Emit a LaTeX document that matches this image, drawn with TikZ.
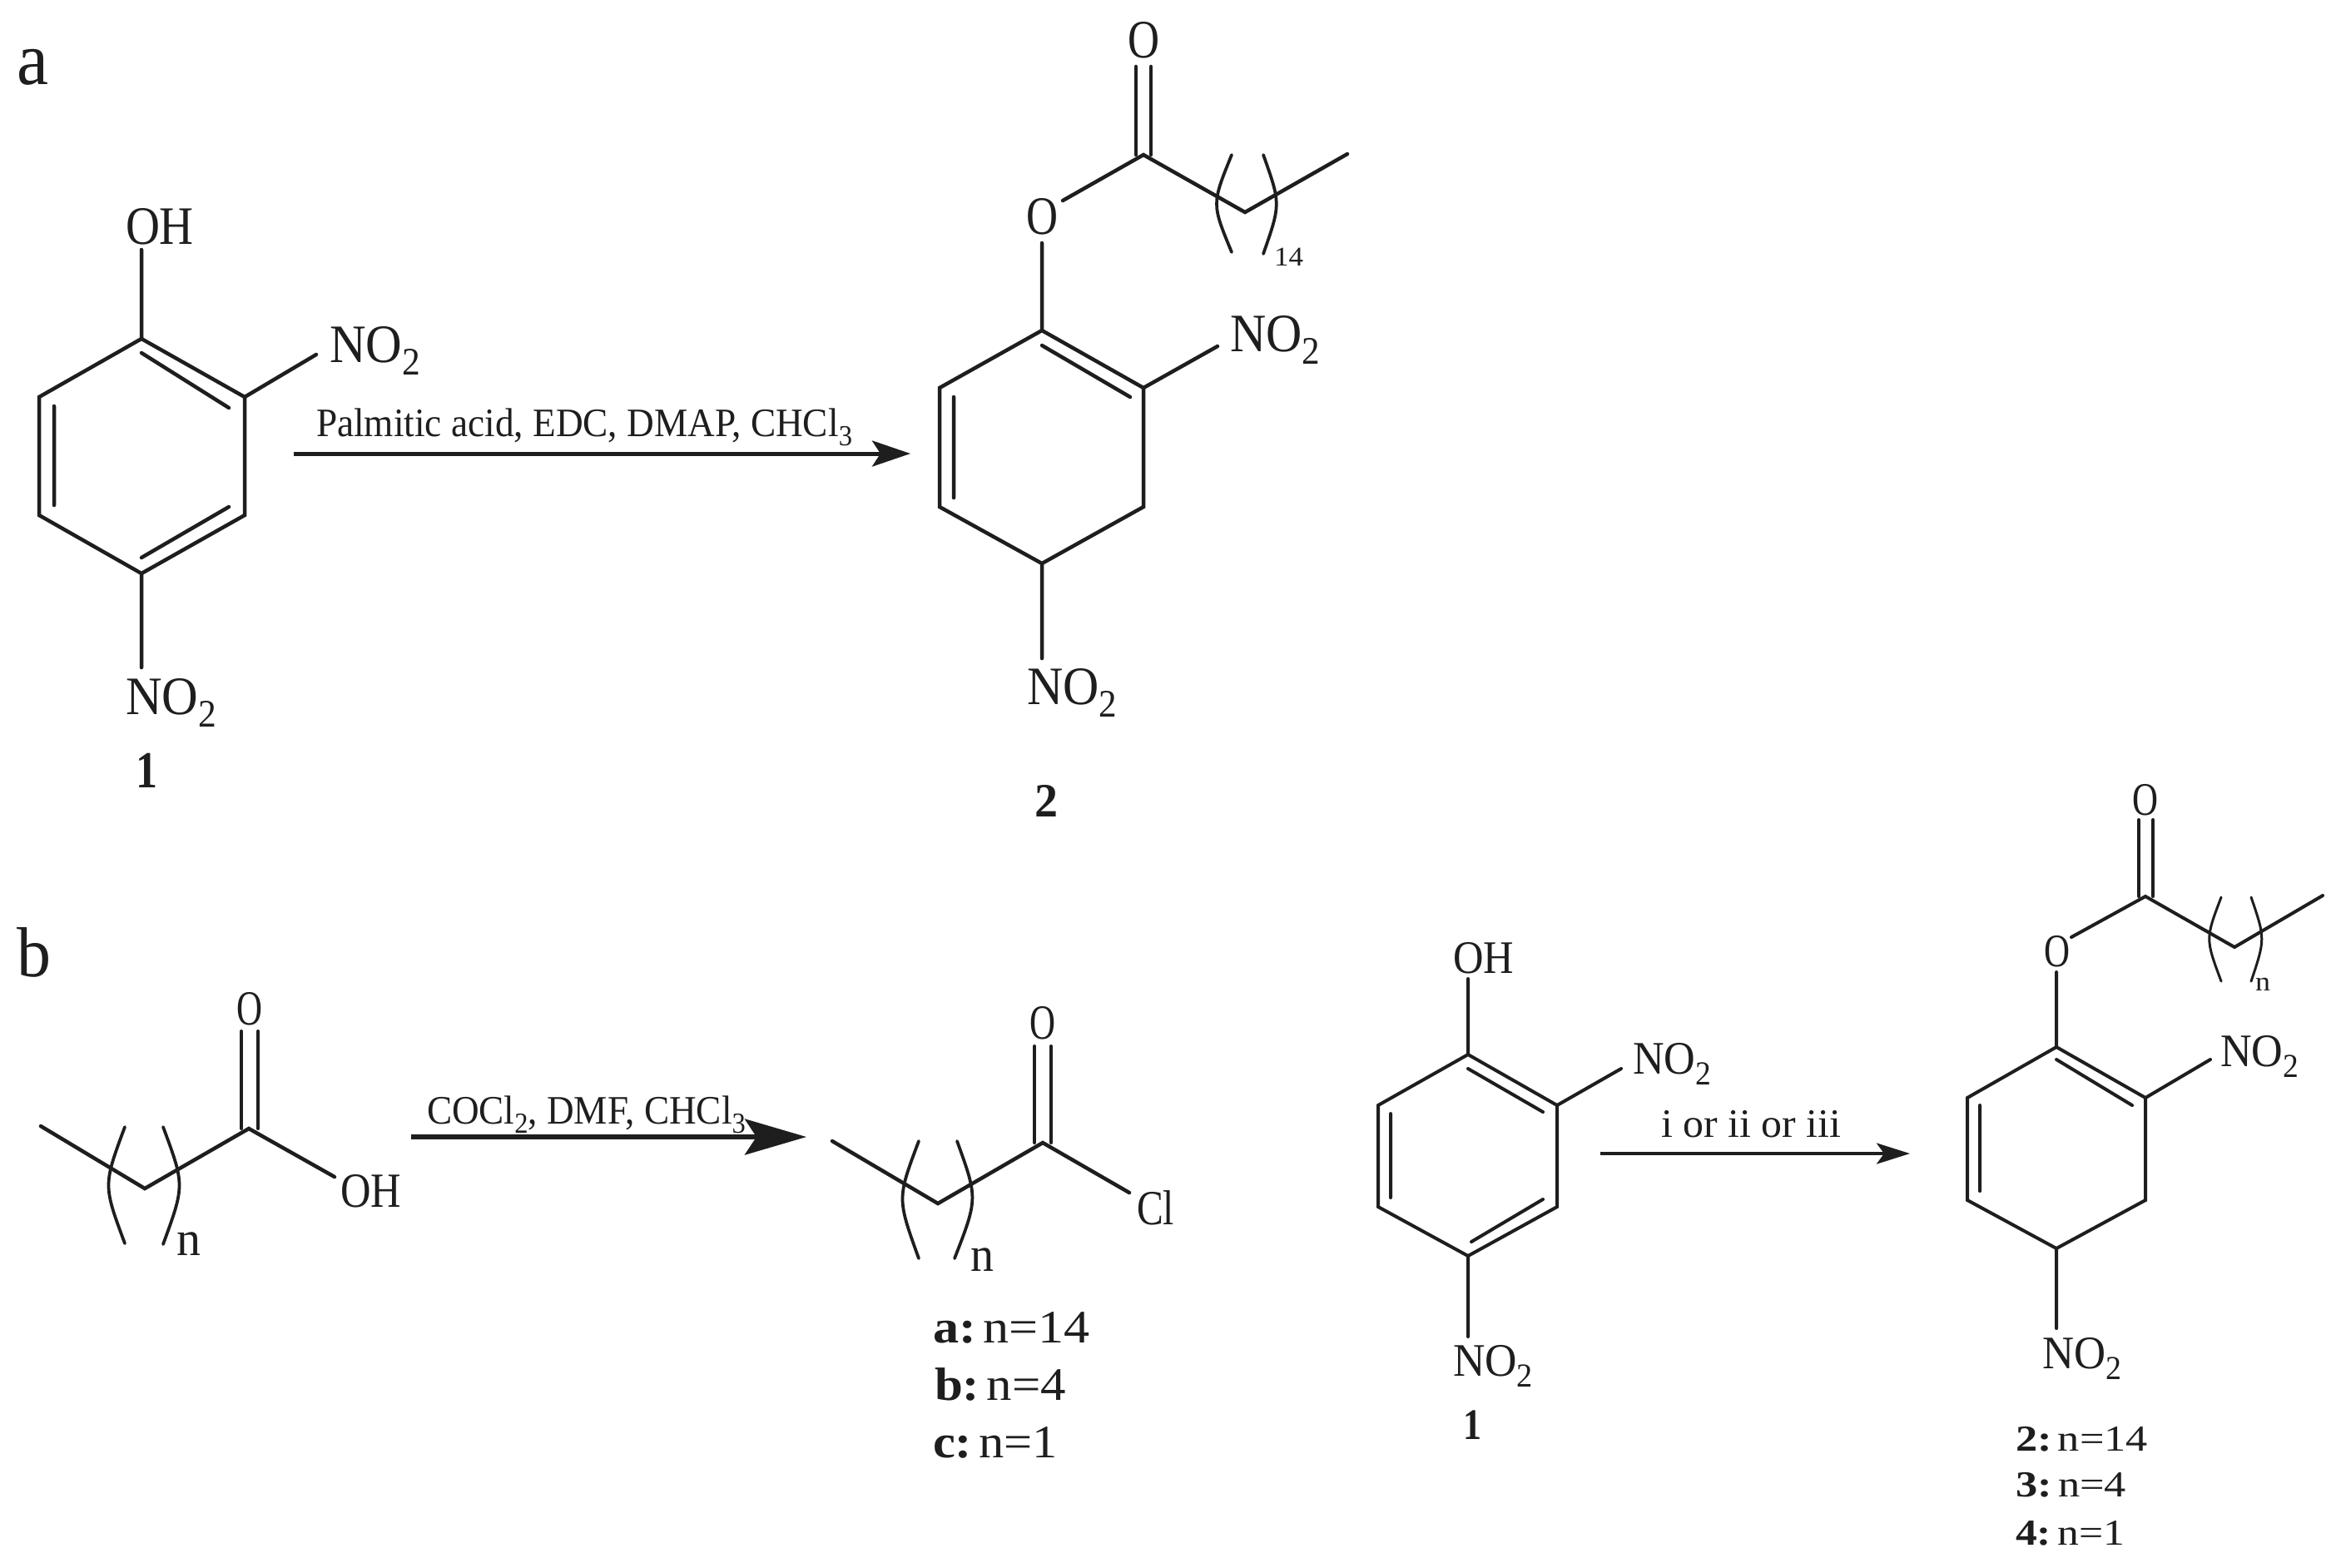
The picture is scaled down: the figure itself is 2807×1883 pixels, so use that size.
\documentclass[tikz,border=0pt]{standalone}
\usepackage{graphicx}
\usepackage{fontspec}
\setmainfont{Liberation Serif}
\usetikzlibrary{arrows.meta}
\newlength\upx \setlength{\upx}{.2pt}
\newcommand\T[3]{\resizebox{#1\upx}{\height}{\fontsize{#2}{#2}\selectfont #3}}
\newcommand\dn[1]{\raisebox{-.24em}{\scalebox{.72}{#1}}}
\newcommand\gp{\hspace{.14em}}
\definecolor{ink}{HTML}{1E1E1E}
\tikzset{
  lab/.style={inner sep=0pt,outer sep=0pt,anchor=base west,text=ink},
  bond/.style={draw=ink,line width=.9pt,line join=miter,line cap=round},
  thinbond/.style={draw=ink,line width=.8pt,line join=miter,line cap=round},
  paren/.style={draw=ink,line width=.75pt,line cap=round},
  rxnS/.style={draw=ink,line width=1pt,-{Stealth[length=9.2pt,width=6.2pt,inset=2pt]}},
  rxnL/.style={draw=ink,line width=1.15pt,-{Stealth[length=14.8pt,width=8.6pt,inset=2.8pt]}},
  rxnT/.style={draw=ink,line width=.85pt,-{Stealth[length=8pt,width=5pt,inset=1.8pt]}}
}
\begin{document}
\begin{tikzpicture}[x=.2pt,y=-.2pt]
\path[use as bounding box,fill=white] (0,0) rectangle (2807,1883);

% panel labels
\node[lab] (panelA) at (21,101) {\T{38}{18}{a}};
\node[lab] (panelB) at (20,1173) {\T{41}{17}{b}};

% ===== panel a, compound 1
\coordinate (a1) at (170,407);
\coordinate (a2) at (294,477);
\coordinate (a3) at (294,619);
\coordinate (a4) at (170,689);
\coordinate (a5) at (47,619);
\coordinate (a6) at (47,477);
\coordinate (a1i) at (170,424);
\coordinate (a2i) at (275,490);
\coordinate (a3i) at (275,609);
\coordinate (a4i) at (170,670);
\coordinate (a5i) at (65,607);
\coordinate (a6i) at (65,488);
\coordinate (aOHb) at (170,300);
\coordinate (aN1b) at (380,426);
\coordinate (aN2b) at (170,802);
\draw[bond] (a1)--(a2)--(a3)--(a4)--(a5)--(a6)--cycle;
\draw[bond] (a1i)--(a2i) (a3i)--(a4i) (a5i)--(a6i);
\draw[bond] (a1)--(aOHb) (a2)--(aN1b) (a4)--(aN2b);
\node[lab] (aOH) at (151,293) {\T{82}{13}{OH}};
\node[lab] (aN1) at (396,435) {\T{109}{13}{NO\dn{2}}};
\node[lab] (aN2) at (151,858) {\T{109}{13}{NO\dn{2}}};
\node[lab] (aL1) at (164,946) {\T{26}{12.5}{\textbf{1}}};

% arrow a
\coordinate (arAs) at (353,545);
\coordinate (arAe) at (1094,545);
\draw[rxnS] (arAs)--(arAe);
\node[lab] (arAt) at (380,524) {\T{644}{9.7}{Palmitic acid, EDC, DMAP, CHCl\dn{3}}};

% ===== panel a, compound 2
\coordinate (p1) at (1252,397);
\coordinate (p2) at (1374,466);
\coordinate (p3) at (1374,609);
\coordinate (p4) at (1252,677);
\coordinate (p5) at (1129,609);
\coordinate (p6) at (1129,466);
\coordinate (p1i) at (1252,415);
\coordinate (p2i) at (1358,477);
\coordinate (p5i) at (1146,598);
\coordinate (p6i) at (1146,477);
\coordinate (pOb) at (1252,292);
\coordinate (pOc) at (1277,241);
\coordinate (pC) at (1374,186);
\coordinate (pO1) at (1365,80);
\coordinate (pO2) at (1383,80);
\coordinate (pC1) at (1365,186);
\coordinate (pC2) at (1383,186);
\coordinate (pM) at (1496,255);
\coordinate (pE) at (1619,185);
\coordinate (pN1b) at (1463,416);
\coordinate (pN2b) at (1252,791);
\draw[bond] (p1)--(p2)--(p3)--(p4)--(p5)--(p6)--cycle;
\draw[bond] (p1i)--(p2i) (p5i)--(p6i);
\draw[bond] (p1)--(pOb) (pOc)--(pC)--(pM)--(pE);
\draw[bond] (pO1)--(pC1) (pO2)--(pC2);
\draw[bond] (p2)--(pN1b) (p4)--(pN2b);
\draw[paren] (1480,186) .. controls (1456,245) .. (1480,303);
\draw[paren] (1518,186) .. controls (1539,245) .. (1518,305);
\node[lab] (pOt) at (1355,69) {\T{38}{13}{O}};
\node[lab] (pOe) at (1233,281) {\T{38}{13}{O}};
\node[lab] (pN14) at (1531,319) {\T{35}{6.5}{14}};
\node[lab] (pN1) at (1478,422) {\T{108}{13}{NO\dn{2}}};
\node[lab] (pN2) at (1234,846) {\T{108}{13}{NO\dn{2}}};
\node[lab] (pL2) at (1243,981) {\T{28}{11.5}{\textbf{2}}};

% ===== panel b, acid
\coordinate (cS) at (49,1353);
\coordinate (cM) at (174,1428);
\coordinate (cC) at (299,1356);
\coordinate (cO1) at (290,1239);
\coordinate (cO2) at (310,1239);
\coordinate (cC1) at (290,1356);
\coordinate (cC2) at (310,1356);
\coordinate (cOH) at (402,1414);
\draw[bond] (cS)--(cM)--(cC)--(cOH);
\draw[thinbond] (cO1)--(cC1) (cO2)--(cC2);
\draw[paren] (150,1354) .. controls (124,1424) .. (150,1494);
\draw[paren] (196,1354) .. controls (222,1424) .. (196,1495);
\node[lab] (cOt) at (284,1231) {\T{31}{11.8}{O}};
\node[lab] (cOHt) at (409,1450) {\T{73}{11.8}{OH}};
\node[lab] (cn) at (212,1508) {\T{29}{11.8}{n}};

% arrow b1
\coordinate (arBs) at (494,1366);
\coordinate (arBe) at (969,1366);
\draw[rxnL] (arBs)--(arBe);
\node[lab] (arBt) at (513,1350) {\T{383}{9.7}{COCl\dn{2}, DMF, CHCl\dn{3}}};

% ===== panel b, acyl chloride
\coordinate (dS) at (1000,1371);
\coordinate (dM) at (1127,1446);
\coordinate (dC) at (1253,1373);
\coordinate (dO1) at (1243,1257);
\coordinate (dO2) at (1263,1257);
\coordinate (dC1) at (1243,1373);
\coordinate (dC2) at (1263,1373);
\coordinate (dCl) at (1357,1433);
\draw[bond] (dS)--(dM)--(dC)--(dCl);
\draw[thinbond] (dO1)--(dC1) (dO2)--(dC2);
\draw[paren] (1104,1371) .. controls (1078,1440) .. (1104,1512);
\draw[paren] (1150,1371) .. controls (1175,1440) .. (1147,1512);
\node[lab] (dOt) at (1237,1248) {\T{31}{11.8}{O}};
\node[lab] (dClt) at (1366,1471) {\T{45}{11.8}{Cl}};
\node[lab] (dn) at (1166,1527) {\T{28}{11.8}{n}};
\node[lab] (dA) at (1121,1613) {\T{189}{11.2}{\textbf{a:}\gp n=14}};
\node[lab] (dB) at (1123,1682) {\T{158}{11.2}{\textbf{b:}\gp n=4}};
\node[lab] (dD) at (1121,1751) {\T{150}{11.2}{\textbf{c:}\gp n=1}};

% ===== panel b, compound 1
\coordinate (e1) at (1764,1267);
\coordinate (e2) at (1871,1328);
\coordinate (e3) at (1871,1450);
\coordinate (e4) at (1764,1509);
\coordinate (e5) at (1656,1450);
\coordinate (e6) at (1656,1328);
\coordinate (e1i) at (1764,1284);
\coordinate (e2i) at (1854,1336);
\coordinate (e3i) at (1854,1441);
\coordinate (e4i) at (1768,1492);
\coordinate (e5i) at (1671,1439);
\coordinate (e6i) at (1671,1338);
\coordinate (eOHb) at (1764,1176);
\coordinate (eN1b) at (1948,1284);
\coordinate (eN2b) at (1764,1606);
\draw[thinbond] (e1)--(e2)--(e3)--(e4)--(e5)--(e6)--cycle;
\draw[thinbond] (e1i)--(e2i) (e3i)--(e4i) (e5i)--(e6i);
\draw[thinbond] (e1)--(eOHb) (e2)--(eN1b) (e4)--(eN2b);
\node[lab] (eOH) at (1746,1169) {\T{73}{11.2}{OH}};
\node[lab] (eN1) at (1962,1290) {\T{94}{11.2}{NO\dn{2}}};
\node[lab] (eN2) at (1746,1653) {\T{96}{11.2}{NO\dn{2}}};
\node[lab] (eL1) at (1758,1729) {\T{22}{10.5}{\textbf{1}}};

% arrow b2
\coordinate (arCs) at (1923,1386);
\coordinate (arCe) at (2295,1386);
\draw[rxnT] (arCs)--(arCe);
\node[lab] (arCt) at (1996,1366) {\T{216}{9.7}{i or ii or iii}};

% ===== panel b, products
\coordinate (f1) at (2471,1258);
\coordinate (f2) at (2578,1319);
\coordinate (f3) at (2578,1442);
\coordinate (f4) at (2471,1500);
\coordinate (f5) at (2364,1442);
\coordinate (f6) at (2364,1319);
\coordinate (f1i) at (2471,1273);
\coordinate (f2i) at (2562,1328);
\coordinate (f5i) at (2379,1431);
\coordinate (f6i) at (2379,1328);
\coordinate (fOb) at (2471,1168);
\coordinate (fOc) at (2489,1126);
\coordinate (fC) at (2578,1077);
\coordinate (fO1) at (2570,985);
\coordinate (fO2) at (2587,985);
\coordinate (fC1) at (2570,1077);
\coordinate (fC2) at (2587,1077);
\coordinate (fM) at (2685,1138);
\coordinate (fE) at (2791,1076);
\coordinate (fN1b) at (2656,1273);
\coordinate (fN2b) at (2471,1596);
\draw[thinbond] (f1)--(f2)--(f3)--(f4)--(f5)--(f6)--cycle;
\draw[thinbond] (f1i)--(f2i) (f5i)--(f6i);
\draw[thinbond] (f1)--(fOb) (fOc)--(fC)--(fM)--(fE);
\draw[thinbond] (fO1)--(fC1) (fO2)--(fC2);
\draw[thinbond] (f2)--(fN1b) (f4)--(fN2b);
\draw[paren,line width=.6pt] (2669,1078) .. controls (2650,1128) .. (2669,1179);
\draw[paren,line width=.6pt] (2705,1078) .. controls (2722,1128) .. (2705,1179);
\node[lab] (fOt) at (2562,979) {\T{31}{11.2}{O}};
\node[lab] (fOe) at (2456,1161) {\T{31}{11.2}{O}};
\node[lab] (fn) at (2710,1190) {\T{18}{6.5}{n}};
\node[lab] (fN1) at (2668,1281) {\T{94}{11.2}{NO\dn{2}}};
\node[lab] (fN2) at (2454,1644) {\T{95}{11.2}{NO\dn{2}}};
\node[lab] (fA) at (2422,1743) {\T{159}{8.8}{\textbf{2:}\gp n=14}};
\node[lab] (fB) at (2422,1798) {\T{133}{8.8}{\textbf{3:}\gp n=4}};
\node[lab] (fD) at (2422,1856) {\T{131}{8.8}{\textbf{4:}\gp n=1}};
\end{tikzpicture}
\end{document}
